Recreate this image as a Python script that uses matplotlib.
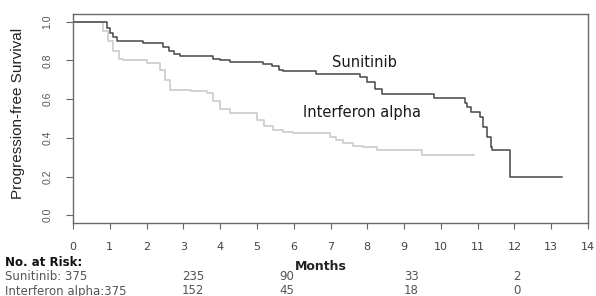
import matplotlib.pyplot as plt

# -------------------------------
# data
# -------------------------------
suni_t = [0, 0.92, 1.0, 1.1, 1.19, 1.9, 2.45, 2.6, 2.75, 2.9, 3.8, 4.0, 4.27, 5.17, 5.4, 5.6,
          5.7, 6.6, 7.8, 8.0, 8.2, 8.4, 9.8, 10.65, 10.7, 10.83, 11.06, 11.15, 11.26, 11.35,
          11.4, 11.87, 13.3]
suni_s = [1.0, 0.97, 0.94, 0.92, 0.898, 0.89, 0.87, 0.85, 0.835, 0.824, 0.81, 0.80, 0.794,
          0.78, 0.77, 0.751, 0.745, 0.73, 0.717, 0.69, 0.65, 0.625, 0.605, 0.58, 0.56, 0.535,
          0.509, 0.457, 0.406, 0.354, 0.337, 0.198, 0.198]

ifn_t = [0, 0.82, 0.95, 1.1, 1.25, 1.37, 2.0, 2.37, 2.5, 2.64, 3.2, 3.63, 3.8, 4.0, 4.27,
         5.0, 5.2, 5.43, 5.7, 5.98, 6.98, 7.15, 7.34, 7.6, 7.88, 8.26, 9.5, 10.9]
ifn_s = [1.0, 0.95, 0.9, 0.85, 0.81, 0.80, 0.786, 0.75, 0.70, 0.648, 0.64, 0.63, 0.59, 0.55,
         0.527, 0.49, 0.46, 0.44, 0.43, 0.423, 0.406, 0.389, 0.375, 0.36, 0.354, 0.337, 0.311,
         0.311]

xticks = list(range(0, 15))
yticks = [0.0, 0.2, 0.4, 0.6, 0.8, 1.0]

# number at risk
risk_x = [3.26, 5.8, 9.2, 12.07]
risk_suni = ["235", "90", "33", "2"]
risk_ifn = ["152", "45", "18", "0"]

W, H = 596, 296
fig = plt.figure(figsize=(W / 100, H / 100), dpi=100)
# axes box in pixels: left 73, right 588, top 14, bottom 223
ax = fig.add_axes([73 / W, 1 - 223 / H, (588 - 73) / W, (223 - 14) / H])

ax.step(ifn_t, ifn_s, where="post", color="#cfcfcf", lw=1.3)
ax.step(suni_t, suni_s, where="post", color="#474747", lw=1.1)

ax.set_xlim(0, 14)
ax.set_ylim(-0.04, 1.04)

for sp in ax.spines.values():
    sp.set_color("#6a6a6a")
    sp.set_linewidth(1.0)

ax.set_xticks(xticks)
ax.set_xticklabels([str(v) for v in xticks], fontsize=8, color="#444444")
ax.set_yticks(yticks)
ax.set_yticklabels([f"{v:.1f}" for v in yticks], fontsize=7.5, color="#555555",
                   rotation=90, va="center", family="Liberation Sans")
ax.tick_params(axis="x", length=4, width=0.8, color="#666666", pad=10)
ax.tick_params(axis="y", length=5, width=0.8, color="#666666", pad=10)

fig.text(18 / W, 1 - 113 / H, "Progression-free Survival", rotation=90, ha="center",
         va="center", family="Liberation Sans", fontsize=11, color="#222222")

ax.text(7.93, 0.79, "Sunitinib", ha="center", va="center", fontsize=10.5, color="#1a1a1a")
ax.text(7.86, 0.53, "Interferon alpha", ha="center", va="center", fontsize=10.5,
        color="#1a1a1a")

fig.text(321 / W, 1 - 266 / H, "Months", ha="center", va="center", fontsize=9,
         fontweight="bold", color="#222222")

fig.text(5 / W, 1 - 263 / H, "No. at Risk:", ha="left", va="center", fontsize=8.5,
         fontweight="bold", color="#111111")
fig.text(5 / W, 1 - 277 / H, "Sunitinib: 375", ha="left", va="center", fontsize=8.5,
         color="#555555")
fig.text(5 / W, 1 - 291 / H, "Interferon alpha:375", ha="left", va="center", fontsize=8.5,
         color="#555555")

for xv, a, b in zip(risk_x, risk_suni, risk_ifn):
    px = (73 + 36.8 * xv) / W
    fig.text(px, 1 - 277 / H, a, ha="center", va="center", fontsize=8.5, color="#555555")
    fig.text(px, 1 - 291 / H, b, ha="center", va="center", fontsize=8.5, color="#555555")

plt.savefig("out.png", dpi=100)
